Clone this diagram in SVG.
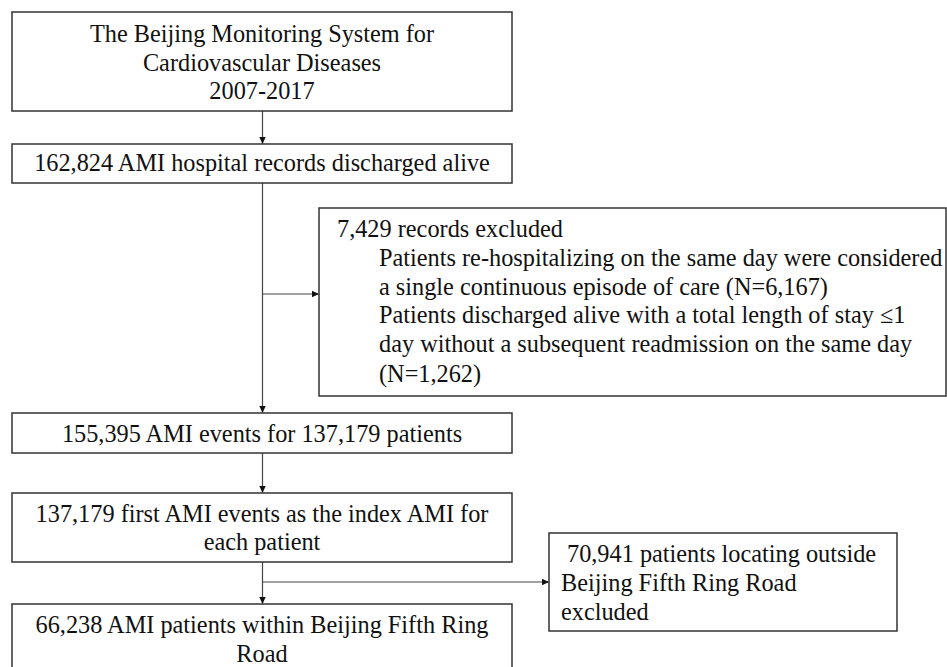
<svg xmlns="http://www.w3.org/2000/svg" width="947" height="667" viewBox="0 0 947 667">
<style>
.box{fill:#fff;stroke:#333;stroke-width:1.5}
.t{font-family:"Liberation Serif","Times New Roman",serif;font-size:24.3px;fill:#111}
.c{text-anchor:middle}
.ln{stroke:#444;stroke-width:1.2;fill:none}
</style>
<defs>
<marker id="ah" markerWidth="8" markerHeight="8" refX="7" refY="4" orient="auto" markerUnits="userSpaceOnUse">
<path d="M0,0.8 L7,4 L0,7.2 Z" fill="#111"/>
</marker>
</defs>
<rect width="947" height="667" fill="#fff"/>
<g id="connectors">
<line class="ln" x1="262.5" y1="111" x2="262.5" y2="144" marker-end="url(#ah)"/>
<line class="ln" x1="262.5" y1="183" x2="262.5" y2="413" marker-end="url(#ah)"/>
<line class="ln" x1="262.5" y1="294" x2="319" y2="294" marker-end="url(#ah)"/>
<line class="ln" x1="262.5" y1="453" x2="262.5" y2="493" marker-end="url(#ah)"/>
<line class="ln" x1="262.5" y1="562" x2="262.5" y2="604" marker-end="url(#ah)"/>
<line class="ln" x1="262.5" y1="582" x2="549" y2="582" marker-end="url(#ah)"/>
</g>
<g id="source">
<rect class="box" x="12" y="12" width="500" height="99"/>
<text class="t c" x="262" y="42">The Beijing Monitoring System for</text>
<text class="t c" x="262" y="71">Cardiovascular Diseases</text>
<text class="t c" x="262" y="99">2007-2017</text>
</g>
<g id="records">
<rect class="box" x="12" y="144" width="500" height="39"/>
<text class="t c" x="262" y="171">162,824 AMI hospital records discharged alive</text>
</g>
<g id="excluded1">
<rect class="box" x="319" y="208" width="627" height="188"/>
<text class="t" x="337" y="237">7,429 records excluded</text>
<text class="t" x="379" y="266">Patients re-hospitalizing on the same day were considered</text>
<text class="t" x="379" y="295">a single continuous episode of care (N=6,167)</text>
<text class="t" x="379" y="323">Patients discharged alive with a total length of stay ≤1</text>
<text class="t" x="379" y="352">day without a subsequent readmission on the same day</text>
<text class="t" x="379" y="382">(N=1,262)</text>
</g>
<g id="events">
<rect class="box" x="12" y="413" width="500" height="40"/>
<text class="t c" x="262" y="442">155,395 AMI events for 137,179 patients</text>
</g>
<g id="first">
<rect class="box" x="12" y="493" width="500" height="69"/>
<text class="t c" x="262" y="522">137,179 first AMI events as the index AMI for</text>
<text class="t c" x="262" y="550">each patient</text>
</g>
<g id="excluded2">
<rect class="box" x="549" y="533" width="348" height="98"/>
<text class="t" x="567" y="562">70,941 patients locating outside</text>
<text class="t" x="561" y="591">Beijing Fifth Ring Road</text>
<text class="t" x="561" y="620">excluded</text>
</g>
<g id="final">
<rect class="box" x="12" y="604" width="500" height="80"/>
<text class="t c" x="262" y="633">66,238 AMI patients within Beijing Fifth Ring</text>
<text class="t c" x="262" y="662">Road</text>
</g>
</svg>
